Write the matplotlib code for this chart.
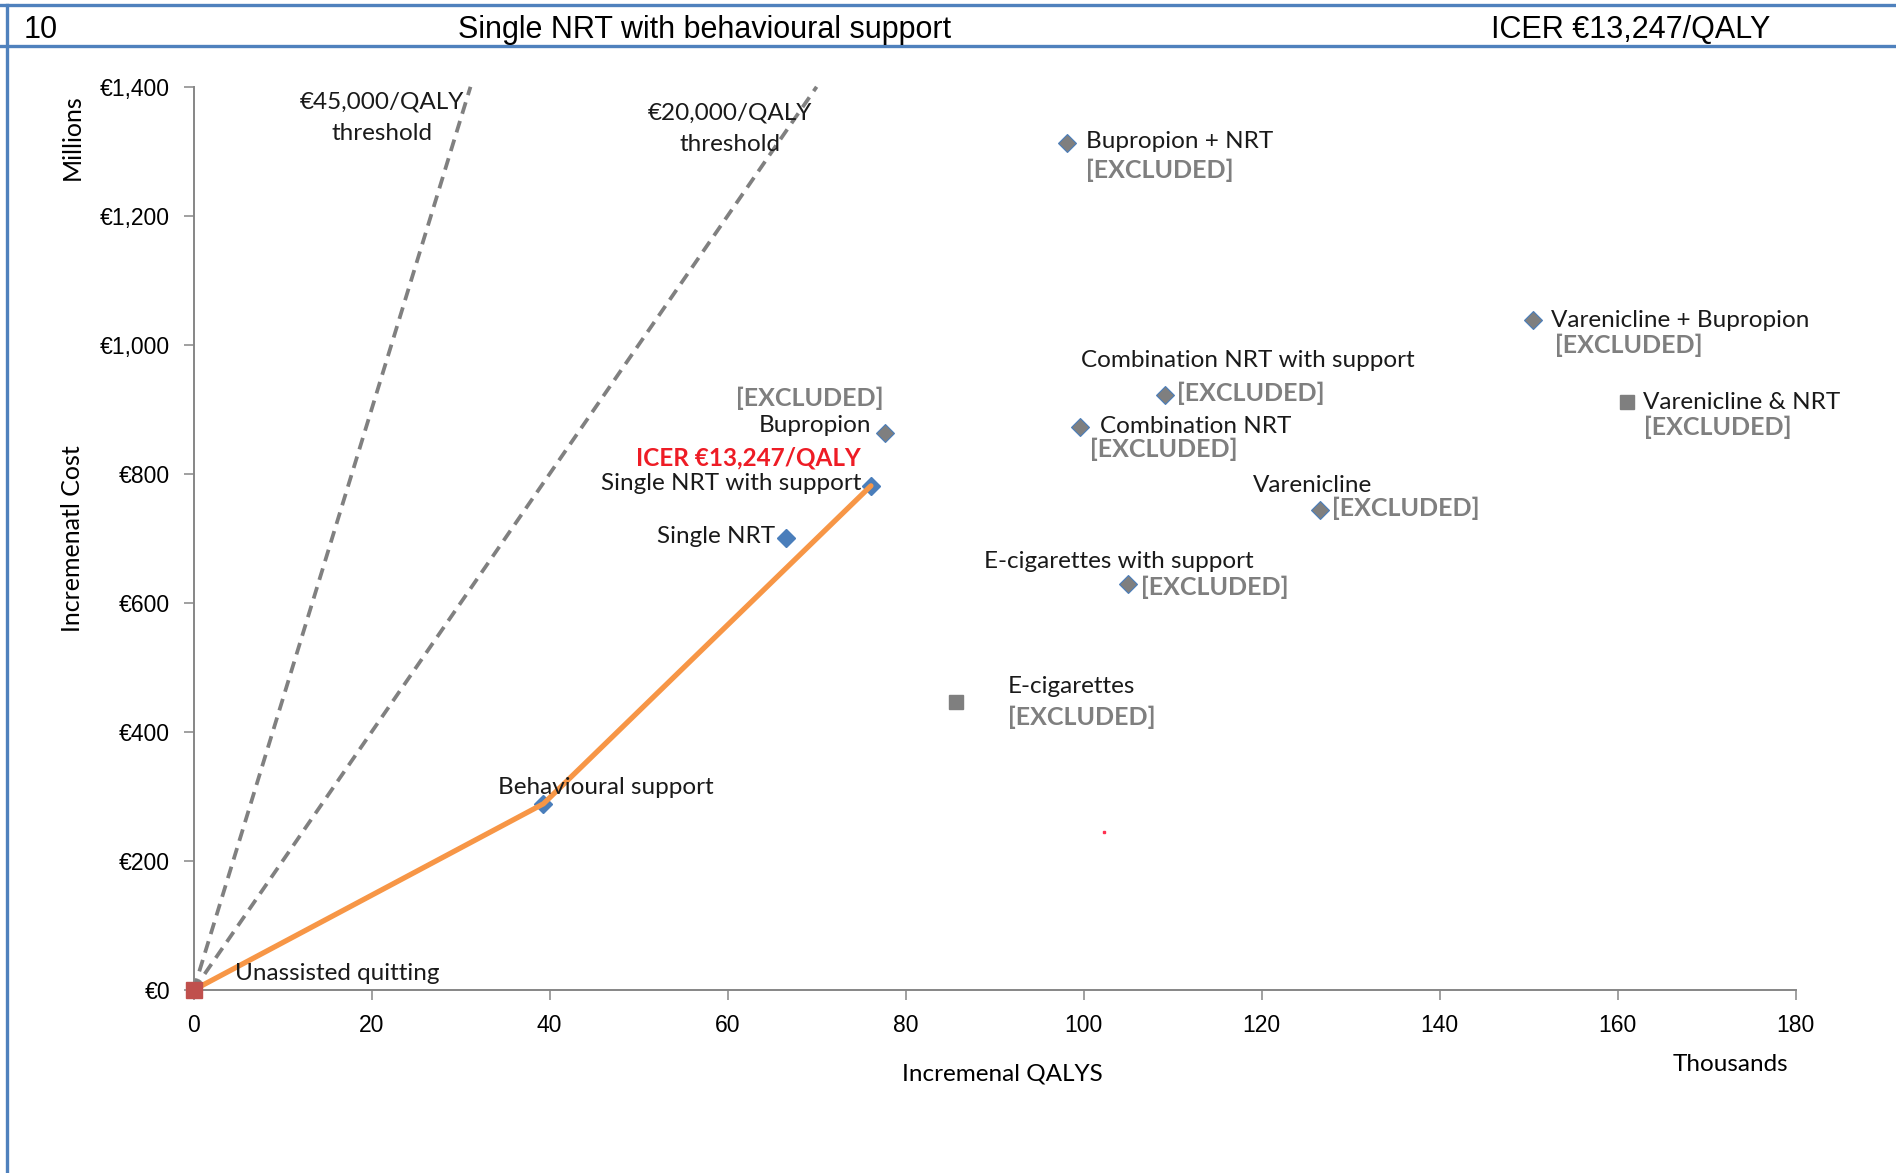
import matplotlib
matplotlib.use("Agg")
import matplotlib.pyplot as plt
from matplotlib.lines import Line2D
from matplotlib.ticker import FuncFormatter, MultipleLocator

# incremental QALYs (thousands) and incremental cost (EUR millions)
strategies = [
    "Unassisted quitting", "Behavioural support", "Single NRT",
    "Single NRT with support", "Bupropion", "Combination NRT",
    "Combination NRT with support", "Bupropion + NRT", "E-cigarettes",
    "E-cigarettes with support", "Varenicline", "Varenicline + Bupropion",
    "Varenicline & NRT",
]
qalys_k = [0, 39.3, 66.6, 76.1, 77.7, 99.6, 109.1, 98.1, 85.7, 105.0, 126.5, 150.5, 161.1]
cost_m = [0, 288.6, 701, 781.5, 864, 873, 922, 1313, 446, 630, 744, 1038, 911]
excluded = ["Bupropion", "Combination NRT", "Combination NRT with support",
            "Bupropion + NRT", "E-cigarettes", "E-cigarettes with support",
            "Varenicline", "Varenicline + Bupropion", "Varenicline & NRT"]
square_marks = ["Unassisted quitting", "E-cigarettes", "Varenicline & NRT"]
frontier = ["Unassisted quitting", "Behavioural support", "Single NRT with support"]
thresholds = [45, 20]  # EUR thousand per QALY
stray_point = (102.3, 245.5)

header_no = "10"
header_title = "Single NRT with behavioural support"
icer_text = "ICER €13,247/QALY"

# label offsets in points: (name dx, dy, ha), (excluded tag dx, dy) or None
label_pos = {
    "Unassisted quitting": ((30, 12, "left"), None),
    "Behavioural support": ((-33, 12, "left"), None),
    "Single NRT": ((-8, 1, "right"), None),
    "Single NRT with support": ((-7, 2, "right"), None),
    "Bupropion": ((-10, 5, "right"), (-1, 25, "right")),
    "Combination NRT": ((14, 0, "left"), (7, -16, "left")),
    "Combination NRT with support": ((-60, 25, "left"), (9, 1, "left")),
    "Bupropion + NRT": ((14, 1, "left"), (14, -20, "left")),
    "E-cigarettes": ((37, 11, "left"), (37, -11, "left")),
    "E-cigarettes with support": ((-104, 16, "left"), (9, -3, "left")),
    "Varenicline": ((-48, 18, "left"), (9, 1, "left")),
    "Varenicline + Bupropion": ((13, 0, "left"), (16, -18, "left")),
    "Varenicline & NRT": ((11, 0, "left"), (12, -18, "left")),
}

BLUE = "#4A7EBB"
GREY = "#7F7F7F"
ORANGE = "#F79646"
LABEL_FONT = ["Lato", "DejaVu Sans"]

fig = plt.figure(figsize=(18.96, 11.73), dpi=100)
ax = fig.add_axes([0.1021, 0.156, 0.845, 0.770])

# threshold lines from origin to top of axis
ymax = 1400
for t in thresholds:
    ax.plot([0, ymax / t], [0, ymax], ls=(0, (3.2, 2)), color="#808080", lw=2.7,
            zorder=2, clip_on=False)

fx = [qalys_k[strategies.index(s)] for s in frontier]
fy = [cost_m[strategies.index(s)] for s in frontier]
ax.plot(fx, fy, color=ORANGE, lw=3.8, zorder=3, solid_capstyle="round")

for name, x, y in zip(strategies, qalys_k, cost_m):
    if name == "Unassisted quitting":
        ax.plot(x, y, marker="s", ms=11, color="#C0504D", zorder=5, clip_on=False)
    elif name in square_marks:
        ax.plot(x, y, marker="s", ms=10.5, color=GREY, zorder=4)
    elif name in excluded:
        ax.plot(x, y, marker="D", ms=9.5, mfc=GREY, mec=BLUE, mew=0.8, zorder=4)
    else:
        ax.plot(x, y, marker="D", ms=9.5, color=BLUE, zorder=2.5)

ax.plot(*stray_point, marker="s", ms=1.5, color="#FF3050", zorder=4)

for name, x, y in zip(strategies, qalys_k, cost_m):
    (dx, dy, ha), tag = label_pos[name]
    ax.annotate(name, (x, y), xytext=(dx, dy), textcoords="offset points",
                ha=ha, va="center", fontsize=17.5, family=LABEL_FONT,
                color="#1A1A1A", zorder=6)
    if tag is not None:
        ax.annotate("[EXCLUDED]", (x, y), xytext=(tag[0], tag[1]),
                    textcoords="offset points", ha=tag[2], va="center",
                    fontsize=18, fontweight="bold", family=LABEL_FONT,
                    color=GREY, zorder=6)

si = strategies.index("Single NRT with support")
ax.annotate(icer_text, (qalys_k[si], cost_m[si]), xytext=(-7, 20),
            textcoords="offset points", ha="right", va="center", fontsize=17.5,
            fontweight="bold", family=LABEL_FONT, color="#EE1C25", zorder=6)

for t, (tx, ty) in zip(thresholds, [(21.2, 1352), (60.3, 1335)]):
    ax.text(tx, ty, f"€{t},000/QALY\nthreshold", ha="center", va="center",
            fontsize=17.5, family=LABEL_FONT, color="#1A1A1A", linespacing=1.6)

ax.set_xlim(0, 180)
ax.set_ylim(0, 1400)
ax.xaxis.set_major_locator(MultipleLocator(20))
ax.yaxis.set_major_locator(MultipleLocator(200))
ax.yaxis.set_major_formatter(FuncFormatter(lambda v, p: f"€{int(v):,}"))
for s in ["top", "right"]:
    ax.spines[s].set_visible(False)
for s in ["left", "bottom"]:
    ax.spines[s].set_color("#868686")
    ax.spines[s].set_linewidth(1.4)
ax.tick_params(direction="out", length=7, width=1.1, color="#868686",
               labelsize=16.5, pad=10)
for lab in ax.get_xticklabels() + ax.get_yticklabels():
    lab.set_family(["Liberation Sans"])

fig.text(0.0382, 0.883, "Millions", rotation=90, ha="center", va="center",
         fontsize=18, family=LABEL_FONT)
fig.text(0.0382, 0.541, "Incremenatl Cost", rotation=90, ha="center", va="center",
         fontsize=18, family=LABEL_FONT)
fig.text(0.5288, 0.0844, "Incremenal QALYS", ha="center", va="center",
         fontsize=17.5, family=LABEL_FONT)
fig.text(0.9125, 0.0929, "Thousands", ha="center", va="center",
         fontsize=17.5, family=LABEL_FONT)

# header band
border = dict(color="#4F81BD", lw=2.4, transform=fig.transFigure)
fig.add_artist(Line2D([0, 1], [0.9957, 0.9957], **border))
fig.add_artist(Line2D([0, 1], [0.9608, 0.9608], **border))
fig.add_artist(Line2D([0.0037, 0.0037], [0, 0.9957], **border))
fig.text(0.0127, 0.9748, header_no, ha="left", va="center", fontsize=22,
         family=["Liberation Sans"])
fig.text(0.3718, 0.9748, header_title, ha="center", va="center", fontsize=22,
         family=["Liberation Sans"])
fig.text(0.8603, 0.9748, icer_text, ha="center", va="center", fontsize=22,
         family=["Liberation Sans"])

fig.savefig("out.png", dpi=100, facecolor="white")
